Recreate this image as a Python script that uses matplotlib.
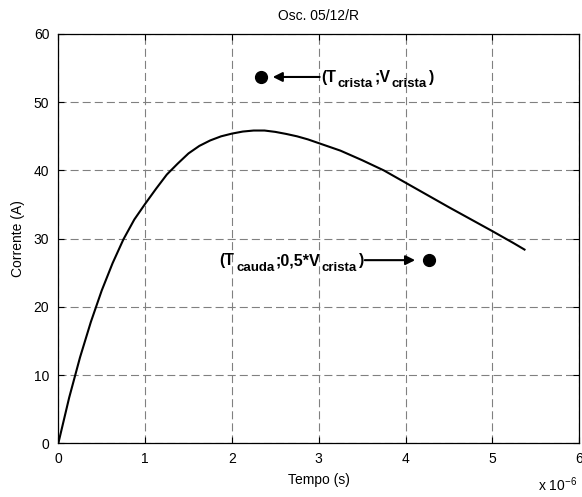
import matplotlib
matplotlib.use("Agg")
import matplotlib.pyplot as plt
from matplotlib.transforms import offset_copy

plt.rcParams['font.family'] = ['Liberation Sans', 'DejaVu Sans']
plt.rcParams['mathtext.fontset'] = 'custom'
plt.rcParams['mathtext.rm'] = 'Liberation Sans'
plt.rcParams['lines.scale_dashes'] = False

# current waveform (time in microseconds, current in A)
tempo = [0, 0.125, 0.25, 0.375, 0.5, 0.625, 0.75, 0.875, 1.0, 1.125, 1.25, 1.375,
         1.5, 1.625, 1.75, 1.875, 2.0, 2.125, 2.25, 2.375, 2.5, 2.625, 2.75, 2.875,
         3.0, 3.25, 3.5, 3.75, 4.0, 4.25, 4.5, 4.75, 5.0, 5.25, 5.37]
corrente = [0, 6.7, 12.6, 17.8, 22.4, 26.4, 29.9, 32.8, 35.1, 37.3, 39.4, 41.0,
            42.5, 43.6, 44.4, 45.0, 45.4, 45.7, 45.85, 45.85, 45.65, 45.35, 45.0, 44.55,
            44.0, 42.9, 41.5, 40.0, 38.2, 36.4, 34.6, 32.85, 31.1, 29.3, 28.4]

# marked points
t_crista, v_crista = 2.33, 53.7
t_cauda = 4.27

# label pieces: (text, is_subscript)
lbl_crista = [('(T', False), ('crista', True), (';V', False), ('crista', True), (')', False)]
lbl_cauda = [('(T', False), ('cauda', True), (';0,5*V', False), ('crista', True), (')', False)]

fig = plt.figure(figsize=(5.82, 4.97), dpi=100)
ax = fig.add_axes([0.1002, 0.108, 0.895, 0.8236])


def draw_label(x, y, parts, ha='left', gap=1.5):
    # bold text with larger-than-mathtext subscripts, placed piece by piece
    r = fig.canvas.get_renderer()
    txts = []
    for s, sub in parts:
        t = ax.text(x, y, s, fontsize=9.5 if sub else 11.5, fontweight='bold',
                    va='baseline', ha='left')
        txts.append((t, sub))
    widths = [t.get_window_extent(renderer=r).width + gap for t, _ in txts]
    widths[-1] -= gap
    dx = -sum(widths) if ha == 'right' else 0
    for (t, sub), w in zip(txts, widths):
        dy = -10.5 if sub else -5
        t.set_transform(offset_copy(ax.transData, fig=fig, x=dx, y=dy, units='dots'))
        dx += w


ax.plot(tempo, corrente, color='black', lw=1.5)
ax.plot([t_crista, t_cauda], [v_crista, 0.5 * v_crista], 'o', color='black', ms=8.5)

ax.annotate('', xy=(2.47, v_crista), xytext=(3.01, v_crista),
            arrowprops=dict(arrowstyle='-|>', color='black', lw=1.5, mutation_scale=14,
                            shrinkA=0, shrinkB=0))
draw_label(3.03, v_crista, lbl_crista, ha='left')

ax.annotate('', xy=(4.11, 0.5 * v_crista), xytext=(3.53, 0.5 * v_crista),
            arrowprops=dict(arrowstyle='-|>', color='black', lw=1.5, mutation_scale=14,
                            shrinkA=0, shrinkB=0))
draw_label(3.52, 0.5 * v_crista, lbl_cauda, ha='right')

ax.set_xlim(0, 6)
ax.set_ylim(0, 60)
ax.set_xticks(range(0, 7))
ax.set_yticks(range(0, 61, 10))
ax.grid(True, color='#808080', lw=0.8, linestyle=(0, (5.8, 2.9)))
ax.tick_params(direction='in', top=True, right=True, length=4, labelsize=10, pad=6.5)
for s in ax.spines.values():
    s.set_linewidth(0.9)

ax.set_title('Osc. 05/12/R', fontsize=10, pad=10)
ax.set_xlabel('Tempo (s)', fontsize=10, labelpad=5)
ax.set_ylabel('Corrente (A)', fontsize=10, labelpad=6)
ax.text(0.92, -0.1, r'x 10$^{-6}$', transform=ax.transAxes, fontsize=10, ha='left', va='center')

fig.savefig('out.png', dpi=100)
